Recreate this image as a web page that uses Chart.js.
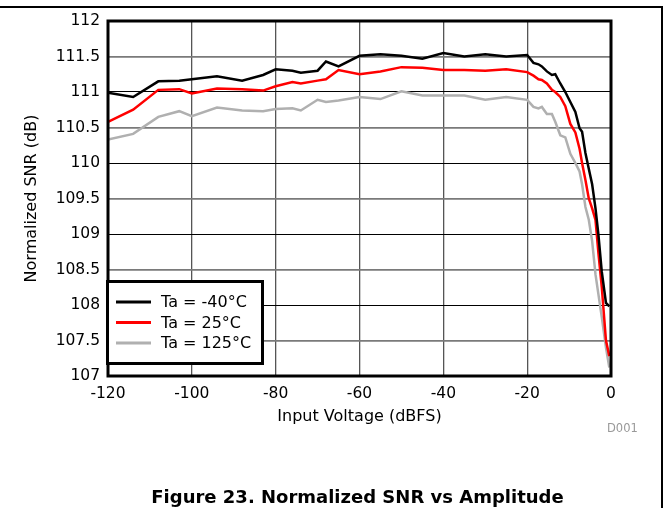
<!DOCTYPE html>
<html>
<head>
<meta charset="utf-8">
<script src="https://cdn.jsdelivr.net/npm/chart.js@4/dist/chart.umd.min.js"></script>
<style>
  body { margin: 0; background: #fff; }
  #wrap { position: relative; width: 669px; height: 508px; overflow: hidden; }
  #frameTop { position: absolute; left: 0; top: 6px; width: 663px; height: 2px; background: #000; }
  #frameRight { position: absolute; left: 661px; top: 6px; width: 2px; height: 502px; background: #000; }
  #caption { position: absolute; left: 0; top: 486px; width: 715px; text-align: center;
             font: bold 18px "DejaVu Sans", sans-serif; line-height: 22px; color: #000; }
  #tag { position: absolute; left: 607px; top: 421px; font: 11.5px "DejaVu Sans", sans-serif;
         line-height: 14px; color: #999; }
</style>
</head>
<body>
<div id="wrap">
  <canvas id="c" width="669" height="508"></canvas>
  <div id="frameTop"></div>
  <div id="frameRight"></div>
  <div id="tag">D001</div>
  <div id="caption">Figure 23. Normalized SNR vs Amplitude</div>
</div>
<script>
// ---- data ----
const inputDbfs = [-120, -114, -108, -103, -100, -94, -88, -83, -80, -76, -74, -70, -68, -65,
  -60, -55, -50, -45, -40, -35, -30, -25, -20, -18.5, -17.3, -16.5, -15.3, -14.1, -13.3,
  -12.1, -10.9, -9.7, -8.5, -7.5, -6.9, -6.1, -5.3, -4.5, -3.7, -3, -2.2, -1.2, -0.4];

const snrM40 = [110.99, 110.93, 111.15, 111.16, 111.18, 111.22, 111.16, 111.24, 111.32, 111.30,
  111.27, 111.30, 111.43, 111.36, 111.51, 111.53, 111.51, 111.47, 111.55, 111.50, 111.53,
  111.50, 111.52, 111.41, 111.39, 111.36, 111.29, 111.24, 111.25, 111.12, 111.00, 110.86,
  110.72, 110.49, 110.44, 110.14, 109.92, 109.70, 109.36, 108.99, 108.47, 108.03, 107.98];

const snr25 = [110.58, 110.75, 111.03, 111.04, 110.98, 111.05, 111.04, 111.02, 111.08, 111.14,
  111.12, 111.16, 111.18, 111.31, 111.25, 111.29, 111.35, 111.34, 111.31, 111.31, 111.30,
  111.32, 111.28, 111.23, 111.18, 111.17, 111.12, 111.03, 111.00, 110.93, 110.80, 110.55,
  110.43, 110.20, 110.00, 109.76, 109.50, 109.36, 109.20, 108.73, 108.25, 107.50, 107.28];

const snr125 = [110.33, 110.41, 110.65, 110.73, 110.66, 110.78, 110.74, 110.73, 110.76, 110.77,
  110.74, 110.89, 110.86, 110.88, 110.93, 110.90, 111.01, 110.95, 110.95, 110.95, 110.89,
  110.93, 110.89, 110.79, 110.77, 110.79, 110.69, 110.69, 110.58, 110.39, 110.36, 110.13,
  110.00, 109.88, 109.70, 109.38, 109.20, 108.90, 108.43, 108.15, 107.83, 107.40, 107.12];

const seriesLabels = ["Ta = -40°C", "Ta = 25°C", "Ta = 125°C"];
const seriesColors = ["#000000", "#ff0000", "#b0b0b0"];
const seriesValues = [snrM40, snr25, snr125];

const FONT = '"DejaVu Sans", sans-serif';

// -------------------------------------------------------------
// plot frame + legend box drawn on top
// -------------------------------------------------------------
const framePlugin = {
  id: "frame",
  afterDraw(chart) {
    const { ctx, chartArea: a } = chart;
    ctx.save();
    ctx.strokeStyle = "#000";
    ctx.lineWidth = 3;
    ctx.strokeRect(a.left, a.top, a.right - a.left, a.bottom - a.top);

    // legend box (series order, datasets are stacked in reverse for drawing)
    const bx = 107.5, by = 281.5, bw = 155, bh = 82;
    ctx.fillStyle = "#fff";
    ctx.fillRect(bx, by, bw, bh);
    ctx.strokeRect(bx, by, bw, bh);
    ctx.font = "16px " + FONT;
    ctx.textBaseline = "middle";
    const sets = chart.data.datasets.slice().sort((p, q) => p.order - q.order);
    sets.forEach((ds, i) => {
      const y = 302 + i * 20.5;
      ctx.strokeStyle = ds.borderColor;
      ctx.lineWidth = 3;
      ctx.beginPath();
      ctx.moveTo(116, y);
      ctx.lineTo(151, y);
      ctx.stroke();
      ctx.fillStyle = "#000";
      ctx.fillText(ds.label, 161, y + 1);
    });
    ctx.restore();
  }
};

new Chart(document.getElementById("c"), {
  type: "line",
  data: {
    datasets: seriesValues.map((vals, i) => ({
      label: seriesLabels[i],
      order: i,
      data: inputDbfs.map((x, k) => ({ x: x, y: vals[k] })),
      borderColor: seriesColors[i],
      borderWidth: 2.5,
      pointRadius: 0,
      tension: 0,
      fill: false
    }))
  },
  options: {
    responsive: false,
    animation: false,
    devicePixelRatio: 1,
    layout: { padding: { left: 0, top: 21, right: 58, bottom: 72 } },
    plugins: { legend: { display: false }, tooltip: { enabled: false } },
    scales: {
      x: {
        type: "linear",
        min: -120, max: 0,
        afterFit: s => { s.height = 60; },
        ticks: { stepSize: 20, padding: 9, color: "#000", font: { family: FONT, size: 15.5 },
                 callback: v => String(v), maxRotation: 0 },
        grid: { color: "#555", lineWidth: 1.3, drawTicks: false },
        border: { display: false },
        title: { display: true, text: "Input Voltage (dBFS)", color: "#000",
                 font: { family: FONT, size: 16 }, padding: { top: 0, bottom: 10 } }
      },
      y: {
        min: 107, max: 112,
        afterFit: s => { s.width = 108; },
        ticks: { stepSize: 0.5, padding: 8, color: "#000", font: { family: FONT, size: 15.5 },
                 callback: v => String(v) },
        grid: {
          color: c => (c.tick && Number.isInteger(c.tick.value)) ? "#000" : "#7a7a7a",
          lineWidth: c => (c.tick && Number.isInteger(c.tick.value)) ? 1 : 1.8,
          drawTicks: false
        },
        border: { display: false },
        title: { display: true, text: "Normalized SNR (dB)", color: "#000",
                 font: { family: FONT, size: 16 }, padding: { top: 22, bottom: 0 } }
      }
    }
  },
  plugins: [framePlugin]
});
</script>
</body>
</html>
